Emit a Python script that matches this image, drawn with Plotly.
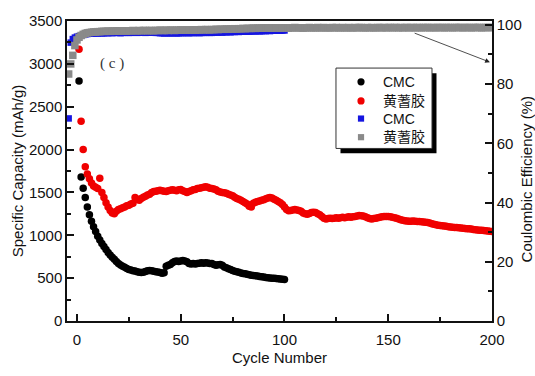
import plotly.graph_objects as go

# ---- specific capacity (mAh/g) per cycle ----
cmc_cycles = list(range(1, 101))
cmc_capacity = [
    2800, 1680, 1550, 1440, 1330, 1240, 1165, 1100, 1045, 990,
    945, 905, 870, 835, 800, 770, 745, 720, 695, 670,
    652, 638, 626, 612, 602, 594, 587, 582, 576, 570,
    566, 570, 578, 585, 590, 586, 580, 576, 572, 565,
    558, 562, 640, 650, 660, 680, 695, 700, 695, 700,
    705, 700, 690, 670, 665, 670, 665, 670, 675, 680,
    675, 680, 678, 670, 672, 660, 650, 655, 660, 650,
    630, 620, 610, 600, 590, 580, 575, 570, 560, 555,
    550, 545, 540, 535, 532, 528, 525, 520, 515, 512,
    508, 505, 502, 500, 498, 495, 492, 490, 488, 485,
]

tg_cycles = list(range(1, 201))
tg_capacity = [
    3170, 2330, 2000, 1800, 1715, 1660, 1610, 1575, 1560, 1545,
    1665, 1500, 1440, 1380, 1330, 1290, 1260, 1250, 1280, 1300,
    1310, 1320, 1330, 1345, 1350, 1365, 1375, 1440, 1420, 1410,
    1430, 1445, 1455, 1470, 1480, 1500, 1510, 1515, 1520, 1525,
    1520, 1515, 1510, 1520, 1525, 1530, 1525, 1520, 1530, 1535,
    1520, 1510, 1500, 1510, 1520, 1530, 1535, 1545, 1550, 1555,
    1560, 1565, 1560, 1550, 1545, 1540, 1530, 1515, 1505, 1500,
    1495, 1490, 1480, 1470, 1460, 1445, 1430, 1420, 1410, 1395,
    1380, 1365, 1340, 1330, 1375, 1385, 1395, 1400, 1410, 1415,
    1425, 1435, 1440, 1435, 1420, 1410, 1395, 1380, 1360, 1330,
    1300, 1285, 1290, 1295, 1300, 1295, 1290, 1280, 1260, 1250,
    1245, 1255, 1265, 1270, 1265, 1250, 1240, 1220, 1200, 1190,
    1195, 1200, 1195, 1200, 1205, 1200, 1205, 1210, 1205, 1210,
    1215, 1210, 1215, 1220, 1225, 1230, 1228, 1225, 1215, 1205,
    1195, 1190, 1195, 1200, 1205, 1210, 1215, 1218, 1220, 1218,
    1215, 1210, 1205, 1200, 1190, 1180, 1175, 1170, 1168, 1165,
    1165, 1168, 1165, 1162, 1160, 1158, 1155, 1152, 1148, 1142,
    1135, 1128, 1122, 1118, 1115, 1110, 1107, 1104, 1100, 1098,
    1095, 1092, 1090, 1087, 1085, 1082, 1080, 1077, 1075, 1072,
    1068, 1065, 1062, 1060, 1058, 1055, 1052, 1050, 1047, 1045,
]

# ---- coulombic efficiency (%) ----
cmc_ce_cycles = list(range(-4, 101))
cmc_ce = [
    68.4, 94.0, 95.2, 95.7, 96.0, 96.2, 96.4, 96.6, 96.8, 96.9, 97.0, 97.0, 97.1, 97.1, 97.1,
    97.2, 97.1, 97.2, 97.2, 97.2, 97.3, 97.2, 97.3, 97.3, 97.3, 97.2, 97.3, 97.3, 97.4, 97.3,
    97.3, 97.4, 97.4, 97.3, 97.4, 97.4, 97.4, 97.3, 97.4, 97.4, 97.4, 97.4, 97.3, 97.3, 97.2,
    97.2, 97.1, 97.2, 97.2, 97.1, 97.2, 97.2, 97.1, 97.2, 97.2, 97.2, 97.3, 97.2, 97.2, 97.3,
    97.2, 97.3, 97.3, 97.2, 97.3, 97.3, 97.3, 97.4, 97.3, 97.3, 97.4, 97.4, 97.4, 97.5, 97.4,
    97.5, 97.5, 97.6, 97.5, 97.6, 97.6, 97.7, 97.6, 97.7, 97.7, 97.7, 97.8, 97.7, 97.8, 97.8,
    97.8, 97.9, 97.8, 97.9, 97.9, 97.9, 98.0, 97.9, 98.0, 98.0, 98.0, 98.1, 98.0, 98.1, 98.1,
]

tg_ce_cycles = list(range(-4, 201))
tg_ce = [
    83.4, 86.8, 89.7, 93.0, 94.9, 95.8, 96.4, 96.8, 97.1, 97.3, 97.4, 97.5, 97.6, 97.6, 97.7,
    97.7, 97.8, 97.8, 97.8, 97.9, 97.8, 97.9, 97.9, 98.0, 97.9, 97.9, 98.0, 98.0, 97.9, 98.0,
    98.0, 98.1, 98.0, 98.0, 98.1, 98.0, 98.1, 98.1, 98.0, 98.1, 98.1, 98.0, 98.1, 98.1, 98.2,
    98.1, 98.1, 98.2, 98.1, 98.2, 98.2, 98.1, 98.2, 98.2, 98.3, 98.2, 98.2, 98.3, 98.2, 98.3,
    98.3, 98.2, 98.3, 98.3, 98.4, 98.3, 98.4, 98.4, 98.3, 98.4, 98.4, 98.5, 98.4, 98.5, 98.5,
    98.5, 98.6, 98.5, 98.6, 98.6, 98.7, 98.6, 98.7, 98.7, 98.8, 98.7, 98.8, 98.8, 98.8, 98.9,
    98.8, 98.9, 98.9, 98.9, 99.0, 98.9, 99.0, 99.0, 98.9, 99.0, 99.0, 99.0, 98.9, 99.0, 99.0,
    99.0, 98.9, 99.0, 99.0, 99.1, 99.0, 99.0, 99.0, 98.9, 99.0, 99.0, 99.1, 99.0, 99.0, 99.0,
    99.1, 99.0, 99.0, 99.1, 99.0, 99.0, 99.0, 99.1, 99.0, 99.1, 99.0, 99.0, 99.1, 99.0, 99.0,
    99.1, 99.0, 99.0, 99.1, 99.0, 99.1, 99.1, 99.0, 99.0, 99.1, 99.0, 99.1, 99.0, 99.0, 99.1,
    99.1, 99.0, 99.1, 99.0, 99.1, 99.1, 99.0, 99.1, 99.1, 99.0, 99.1, 99.0, 99.1, 99.1, 99.0,
    99.1, 99.1, 99.0, 99.1, 99.1, 99.0, 99.1, 99.1, 99.1, 99.0, 99.1, 99.1, 99.0, 99.1, 99.1,
    99.1, 99.0, 99.1, 99.1, 99.1, 99.0, 99.1, 99.1, 99.1, 99.1, 99.0, 99.1, 99.1, 99.1, 99.0,
    99.1, 99.1, 99.1, 99.1, 99.0, 99.1, 99.1, 99.1, 99.1, 99.1,
]

series_names = ["CMC", "黄蓍胶", "CMC", "黄蓍胶"]
series_colors = ["#000000", "#f00000", "#1515e0", "#8a8a8a"]
series_symbols = ["circle", "circle", "square", "square"]

FONT = "Liberation Sans, Arial, Noto Sans CJK SC, sans-serif"
AXIS_COLOR = "#111111"
TEXT_COLOR = "#111111"

fig = go.Figure()

fig.add_trace(go.Scatter(
    x=cmc_cycles, y=cmc_capacity, mode="markers", name=series_names[0],
    marker=dict(symbol=series_symbols[0], size=7.5, color=series_colors[0]),
))
fig.add_trace(go.Scatter(
    x=tg_cycles, y=tg_capacity, mode="markers", name=series_names[1],
    marker=dict(symbol=series_symbols[1], size=7.5, color=series_colors[1]),
))
fig.add_trace(go.Scatter(
    x=cmc_ce_cycles, y=cmc_ce, mode="markers", name=series_names[2], yaxis="y2",
    marker=dict(symbol=series_symbols[2], size=6.5, color=series_colors[2]),
))
fig.add_trace(go.Scatter(
    x=tg_ce_cycles, y=tg_ce, mode="markers", name=series_names[3], yaxis="y2",
    marker=dict(symbol=series_symbols[3], size=7.5, color=series_colors[3]),
))

axis_common = dict(
    ticks="inside", ticklen=7, tickwidth=1.5, tickcolor=AXIS_COLOR,
    showline=True, linewidth=1.5, linecolor=AXIS_COLOR,
    showgrid=False, zeroline=False,
    tickfont=dict(family=FONT, size=15, color=TEXT_COLOR),
)

# ---- boxed key with a drop shadow (paper coordinates) ----
key_left, key_right, key_top, key_bottom = 0.6329, 0.8588, 0.8431, 0.5752
shadow_dx, shadow_dy = 0.0106, 0.0164
key_symbol_x = 0.6918
key_text_x = 0.7388
key_rows_y = [0.7974, 0.7337, 0.6748, 0.6127]

shapes = [
    dict(type="rect", xref="paper", yref="paper", layer="above",
         x0=key_left + shadow_dx, x1=key_right + shadow_dx,
         y0=key_bottom - shadow_dy, y1=key_top - shadow_dy - 0.0005,
         fillcolor="black", line=dict(width=0)),
    dict(type="rect", xref="paper", yref="paper", layer="above",
         x0=key_left, x1=key_right, y0=key_bottom, y1=key_top,
         fillcolor="white", line=dict(color="#333333", width=1)),
]
annotations = []
for name, color, symbol, ry in zip(series_names, series_colors, series_symbols, key_rows_y):
    half = 3.6 if symbol == "circle" else 3.1
    shapes.append(dict(
        type="circle" if symbol == "circle" else "rect",
        xref="paper", yref="paper", layer="above",
        xsizemode="pixel", ysizemode="pixel",
        xanchor=key_symbol_x, yanchor=ry,
        x0=-half, x1=half, y0=-half, y1=half,
        fillcolor=color, line=dict(width=0),
    ))
    annotations.append(dict(
        text=name, xref="paper", yref="paper", x=key_text_x, y=ry,
        xanchor="left", yanchor="middle", showarrow=False,
        font=dict(family=FONT, size=14, color=TEXT_COLOR),
    ))

annotations += [
    dict(text="Coulombic Efficiency (%)", textangle=-90,
         xref="paper", yref="paper", x=1.08, y=0.472,
         xanchor="center", yanchor="middle", showarrow=False,
         font=dict(family=FONT, size=15, color=TEXT_COLOR)),
    dict(text="( c )", xref="x", yref="y", x=17, y=3000,
         xanchor="center", yanchor="middle", showarrow=False,
         font=dict(family="Liberation Serif, serif", size=15, color="#333333")),
    dict(text="", xref="x", yref="y2", x=199, y=87.4,
         axref="x", ayref="y2", ax=162, ay=97.4,
         showarrow=True, arrowhead=2, arrowsize=1.2, arrowwidth=0.8,
         arrowcolor="#222222", standoff=0),
]

fig.update_layout(
    width=535, height=376,
    margin=dict(l=67, r=43, t=18, b=52),
    paper_bgcolor="white", plot_bgcolor="white",
    font=dict(family=FONT, size=15, color=TEXT_COLOR),
    xaxis=dict(
        range=[-4.8, 200], tick0=0, dtick=50, mirror=True,
        minor=dict(ticks="inside", ticklen=4, tickwidth=1.5, tickcolor=AXIS_COLOR, dtick=25),
        ticklabelstandoff=4,
        title=dict(text="Cycle Number", standoff=6, font=dict(size=15)),
        **axis_common,
    ),
    yaxis=dict(
        range=[0, 3500], tick0=0, dtick=500,
        minor=dict(ticks="inside", ticklen=4, tickwidth=1.5, tickcolor=AXIS_COLOR, dtick=250),
        title=dict(text="Specific Capacity (mAh/g)", standoff=2, font=dict(size=15)),
        **axis_common,
    ),
    yaxis2=dict(
        range=[0, 101.3], tick0=0, dtick=20, overlaying="y", side="right",
        minor=dict(ticks="inside", ticklen=4, tickwidth=1.5, tickcolor=AXIS_COLOR, dtick=10),
        **axis_common,
    ),
    showlegend=False,
    shapes=shapes,
    annotations=annotations,
)

fig.write_html("out.html")
